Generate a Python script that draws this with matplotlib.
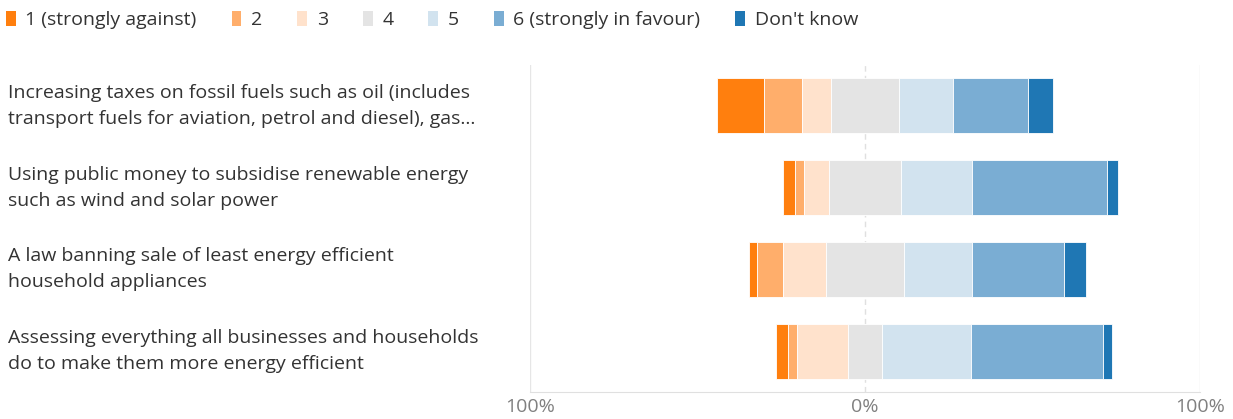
import matplotlib.pyplot as plt
import matplotlib.transforms as mtransforms
import numpy as np
from matplotlib.patches import Patch

plt.rcParams['font.family'] = ['Open Sans', 'DejaVu Sans']

questions = [
    "Increasing taxes on fossil fuels such as oil (includes\ntransport fuels for aviation, petrol and diesel), gas...",
    "Using public money to subsidise renewable energy\nsuch as wind and solar power",
    "A law banning sale of least energy efficient\nhousehold appliances",
    "Assessing everything all businesses and households\ndo to make them more energy efficient",
]
levels = ["1 (strongly against)", "2", "3", "4", "5", "6 (strongly in favour)", "Don't know"]

# share of answers per level (percent), one entry per question
lvl1 = [14.1, 3.7, 2.5, 3.6]
lvl2 = [11.3, 2.6, 7.7, 2.5]
lvl3 = [8.7, 7.6, 12.8, 15.3]
lvl4 = [20.3, 21.3, 23.3, 10.1]
lvl5 = [16.2, 21.3, 20.3, 26.5]
lvl6 = [22.3, 40.2, 27.4, 39.6]
dont_know = [7.6, 3.5, 6.6, 2.6]

colors = ["#ff7f0e", "#ffae6b", "#ffe2cc", "#e4e4e4", "#d2e3ef", "#7aadd3", "#1f77b4"]

fig = plt.figure(figsize=(12.33, 4.19), dpi=100)
ax = fig.add_axes([530 / 1233, 1 - 392 / 419, 670 / 1233, 327 / 419])

series = np.array([lvl1, lvl2, lvl3, lvl4, lvl5, lvl6, dont_know])
y = np.arange(len(questions))
left = -(series[0] + series[1] + series[2] + series[3] / 2)
for vals, col in zip(series, colors):
    ax.barh(y, vals, left=left, height=0.67, color=col, edgecolor="white",
            linewidth=0.6, zorder=3)
    left = left + vals

ax.set_xlim(-100, 100)
ax.set_ylim(len(questions) - 0.5, -0.5)
ax.axvline(-100, color="#e6e6e6", lw=1, zorder=1)
ax.axvline(100, color="#e6e6e6", lw=1, zorder=1)
ax.axvline(0, color="#e0e0e0", lw=1, ls=(0, (4, 3)), zorder=1)
for s in ["top", "left", "right"]:
    ax.spines[s].set_visible(False)
ax.spines["bottom"].set_color("#e0e0e0")
ax.set_yticks([])
ax.set_xticks([-100, 0, 100])
ax.set_xticklabels(["100%", "0%", "100%"], fontsize=14, color="#808080")
ax.tick_params(axis="x", length=0, pad=4)

trans = mtransforms.blended_transform_factory(fig.transFigure, ax.transData)
for yi, q in zip(y, questions):
    ax.text(8 / 1233, yi, q, transform=trans, ha="left", va="center",
            fontsize=14, color="#333333", linespacing=1.58)

handles = [Patch(facecolor=c, edgecolor="none") for c in colors]
fig.legend(handles, levels, loc="upper left", bbox_to_anchor=(0.0, 1 - 5 / 419), ncol=7,
           frameon=False, fontsize=14, handlelength=0.5, handleheight=0.85,
           handletextpad=0.5, columnspacing=1.8, borderaxespad=0.0,
           borderpad=0.3, labelcolor="#333333")

fig.savefig("out.png", dpi=100)
